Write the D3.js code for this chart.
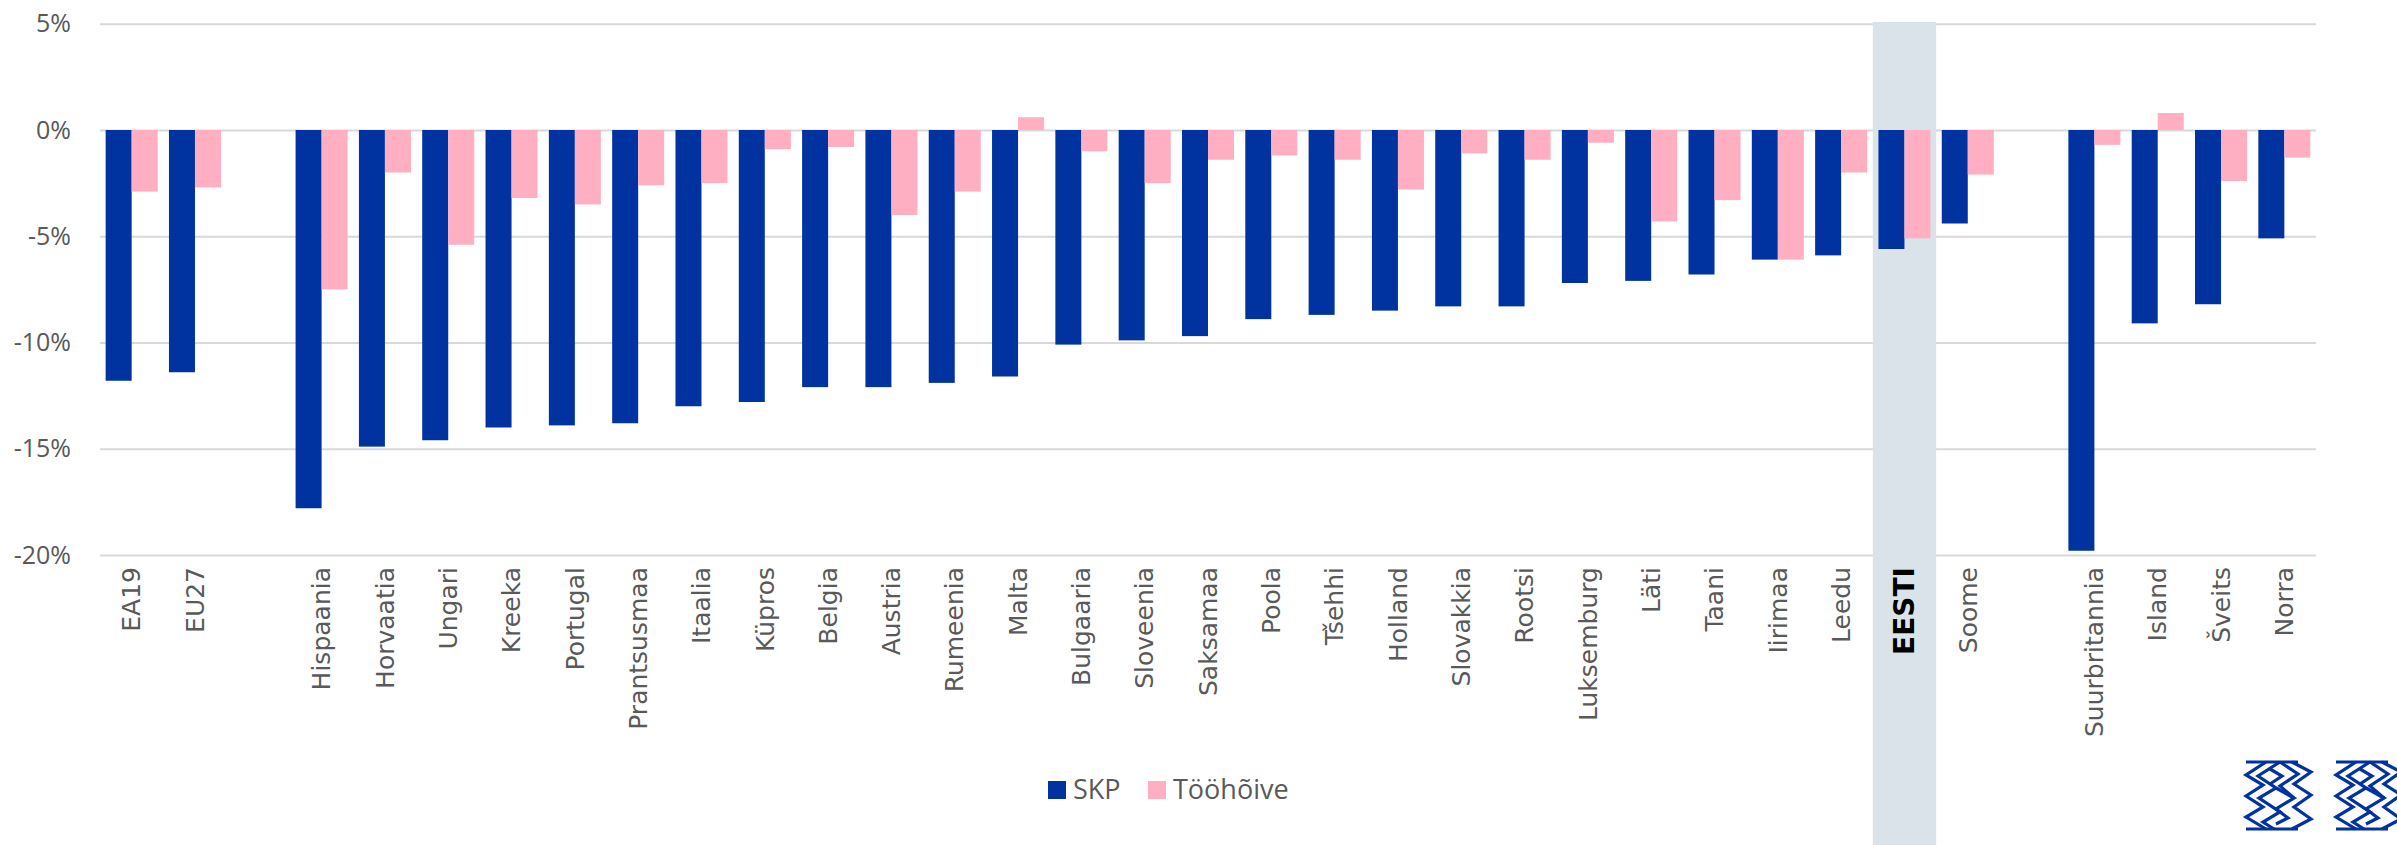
<!DOCTYPE html>
<html>
<head>
<meta charset="utf-8">
<script src="https://cdn.jsdelivr.net/npm/d3@7"></script>
<style>
  body { margin: 0; background: #fff; }
  svg { display: block; }
</style>
</head>
<body>
<div class="vis-container"></div>
<script>
// data (empty strings are spacer columns)
const categories = [
  "EA19", "EU27", "",
  "Hispaania", "Horvaatia", "Ungari", "Kreeka", "Portugal", "Prantsusmaa",
  "Itaalia", "Küpros", "Belgia", "Austria", "Rumeenia", "Malta", "Bulgaaria",
  "Sloveenia", "Saksamaa", "Poola", "Tšehhi", "Holland", "Slovakkia", "Rootsi",
  "Luksemburg", "Läti", "Taani", "Iirimaa", "Leedu", "EESTI", "Soome", "",
  "Suurbritannia", "Island", "Šveits", "Norra",
];
const skpValues = [
  -11.8, -11.4, null,
  -17.8, -14.9, -14.6, -14.0, -13.9, -13.8,
  -13.0, -12.8, -12.1, -12.1, -11.9, -11.6, -10.1,
  -9.9, -9.7, -8.9, -8.7, -8.5, -8.3, -8.3,
  -7.2, -7.1, -6.8, -6.1, -5.9, -5.6, -4.4, null,
  -19.8, -9.1, -8.2, -5.1,
];
const employmentValues = [
  -2.9, -2.7, null,
  -7.5, -2.0, -5.4, -3.2, -3.5, -2.6,
  -2.5, -0.9, -0.8, -4.0, -2.9, 0.6, -1.0,
  -2.5, -1.4, -1.2, -1.4, -2.8, -1.1, -1.4,
  -0.6, -4.3, -3.3, -6.1, -2.0, -5.1, -2.1, null,
  -0.7, 0.8, -2.4, -1.3,
];
const yTicks = [5, 0, -5, -10, -15, -20];
const seriesNames = ["SKP", "Tööhõive"];
const highlight = "EESTI";

// colours
const blue = "#0033a0";
const pink = "#ffafc1";

// svg area
const width = 2397;
const height = 845;
const plot = { left: 100, right: 2316, top: 23.75, bottom: 555 };

const svg = d3
  .select(".vis-container")
  .append("svg")
  .attr("width", width)
  .attr("height", height);

// scales
const xScale = d3
  .scaleBand()
  .domain(categories.map((d, i) => i))
  .range([plot.left, plot.right]);

const xInner = d3
  .scaleBand()
  .domain([0, 1])
  .range([0, xScale.bandwidth()])
  .paddingOuter(0.217);

const yScale = d3.scaleLinear().domain([-20, 5]).range([plot.bottom, plot.top]);

// y axis + gridlines
const yAxis = d3
  .axisLeft(yScale)
  .tickValues(yTicks)
  .tickSize(-(plot.right - plot.left))
  .tickPadding(29)
  .tickFormat((d) => `${d}%`);

const yG = svg
  .append("g")
  .attr("id", "y-axis")
  .attr("transform", `translate(${plot.left}, 0)`)
  .call(yAxis);
yG.select(".domain").remove();
yG.selectAll("line").attr("stroke", "#d9d9d9").attr("stroke-width", 2);
yG.selectAll("text")
  .attr("fill", "#595959")
  .style("font-family", "'Open Sans', sans-serif")
  .style("font-size", "25px");

// highlight column for Estonia
const hIdx = categories.indexOf(highlight);
svg
  .append("rect")
  .attr("x", xScale(hIdx))
  .attr("y", 22)
  .attr("width", xScale.bandwidth())
  .attr("height", height - 22)
  .attr("fill", "#dae3ea");

// bars
const rows = categories.map((c, i) => ({
  i: i,
  name: c,
  values: [skpValues[i], employmentValues[i]],
}));

const groups = svg
  .selectAll(".cat")
  .data(rows.filter((d) => d.name !== ""))
  .enter()
  .append("g")
  .attr("class", "cat")
  .attr("transform", (d) => `translate(${xScale(d.i)}, 0)`);

groups
  .selectAll("rect")
  .data((d) => d.values.map((v, k) => ({ k: k, v: v })))
  .enter()
  .append("rect")
  .attr("x", (d) => xInner(d.k))
  .attr("width", xInner.bandwidth())
  .attr("y", (d) => yScale(Math.max(0, d.v)))
  .attr("height", (d) => Math.abs(yScale(d.v) - yScale(0)))
  .attr("fill", (d) => (d.k === 0 ? blue : pink));

// x axis labels (rotated)
const xAxis = d3
  .axisBottom(xScale)
  .tickSize(0)
  .tickFormat((i) => categories[i]);

const xG = svg
  .append("g")
  .attr("id", "x-axis")
  .attr("transform", `translate(0, ${plot.bottom})`)
  .call(xAxis);
xG.select(".domain").remove();
xG.selectAll("text")
  .attr("transform", "rotate(-90)")
  .attr("x", -12)
  .attr("y", 0)
  .attr("dy", "0.35em")
  .style("text-anchor", "end")
  .style("font-family", "'DejaVu Sans', sans-serif")
  .style("font-size", (i) => (categories[i] === highlight ? "28px" : "25px"))
  .attr("fill", (i) => (categories[i] === highlight ? "#000" : "#595959"))
  .style("font-weight", (i) => (categories[i] === highlight ? "bold" : "normal"));

// legend
const legend = svg.append("g").attr("transform", "translate(1048, 781)");
const legendX = [0, 100];
seriesNames.forEach((name, k) => {
  legend
    .append("rect")
    .attr("x", legendX[k])
    .attr("y", 0)
    .attr("width", 18)
    .attr("height", 18)
    .attr("fill", k === 0 ? blue : pink);
  legend
    .append("text")
    .attr("x", legendX[k] + 25)
    .attr("y", 18)
    .attr("fill", "#595959")
    .style("font-family", "'Open Sans', sans-serif")
    .style("font-size", "27px")
    .text(name);
});

// logo in the corner (two lattice marks)
const logoPaths = [
  "M0,0 L52,0 M0,67 L52,67",
  "M20,0 L0,13 L17,23 L0,34 L17,45 L0,55 L20,67",
  "M46,0 L65,10 L48,22 L65,33 L48,45 L65,57 L46,67",
  "M34,0 L12,14 L30,26 L13,36 L34,50 L17,60 L28,67",
  "M24,7 L36,14 L24,22 M30,26 L48,36 L30,47 L42,56 L30,62",
  "M34,0 L52,12 L34,24 L48,36",
];
[2246, 2336].forEach((lx) => {
  const g = svg.append("g").attr("transform", `translate(${lx}, 762)`);
  logoPaths.forEach((p) => {
    g.append("path")
      .attr("d", p)
      .attr("fill", "none")
      .attr("stroke", blue)
      .attr("stroke-width", 3.2)
      .attr("stroke-linejoin", "miter");
  });
});
</script>
</body>
</html>
